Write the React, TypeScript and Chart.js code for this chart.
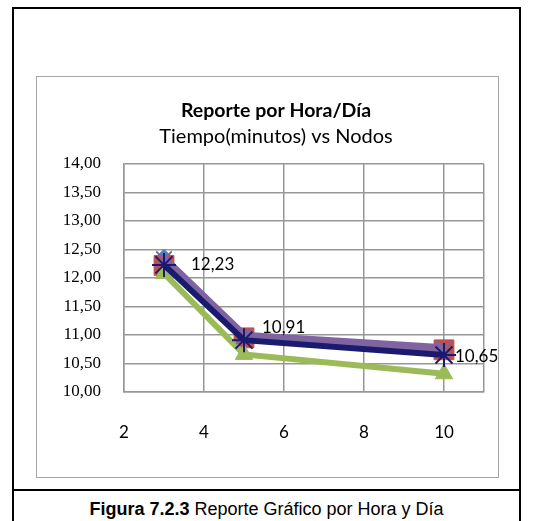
import React, { useEffect, useRef } from "react";
import { Chart, registerables } from "chart.js";

Chart.register(...registerables);

const nodes = [3, 5, 10];
const serieAzul = [12.38, 10.93, 10.72];
const serieRoja = [12.22, 10.95, 10.74];
const serieVerde = [12.08, 10.66, 10.32];
const serieMorada = [12.33, 10.98, 10.76];
const serieMarino = [12.23, 10.91, 10.65];
const xTicks = [2, 4, 6, 8, 10];
const xMax = 11;
const yMin = 10;
const yMax = 14;
const yStep = 0.5;
const titleText = "Reporte por Hora/Día";
const subtitleText = "Tiempo(minutos) vs Nodos";
const captionBold = "Figura 7.2.3";
const captionRest = " Reporte Gráfico por Hora y Día";

const fmt = (v: number) => v.toFixed(2).replace(".", ",");

const labelOffsets = [
  { dx: 27, dy: 0 },
  { dx: 18, dy: -13 },
  { dx: 11, dy: 2 },
];

const dataLabelPlugin = {
  id: "dataLabels",
  afterDatasetsDraw(chart: any) {
    const ctx = chart.ctx;
    const idx = chart.data.datasets.findIndex((d: any) => d.showLabels);
    if (idx < 0) return;
    const meta = chart.getDatasetMeta(idx);
    const ds = chart.data.datasets[idx];
    ctx.save();
    ctx.font = "17px Lato";
    ctx.fillStyle = "#000";
    ctx.textAlign = "left";
    ctx.textBaseline = "middle";
    meta.data.forEach((pt: any, i: number) => {
      const o = labelOffsets[i] || { dx: 10, dy: 0 };
      ctx.fillText(fmt(ds.data[i].y), pt.x + o.dx, pt.y + o.dy);
    });
    ctx.restore();
  },
};

const toPts = (arr: number[]) => arr.map((y, i) => ({ x: nodes[i], y }));

export default function App() {
  const ref = useRef<HTMLCanvasElement>(null);
  useEffect(() => {
    if (!ref.current) return;
    const grid = "#979797";
    const chart = new Chart(ref.current, {
      type: "line",
      data: {
        datasets: [
          {
            label: "S5",
            data: toPts(serieMarino),
            borderColor: "#1a1a6e",
            backgroundColor: "#1a1a6e",
            borderWidth: 6,
            pointStyle: "star",
            pointRadius: 12,
            pointBorderWidth: 2,
            order: 0,
            showLabels: true,
          } as any,
          {
            label: "S4",
            data: toPts(serieMorada),
            borderColor: "#8064A2",
            backgroundColor: "#8064A2",
            borderWidth: 9,
            pointStyle: "crossRot",
            pointRadius: 11,
            pointBorderWidth: 2,
            order: 1,
          },
          {
            label: "S3",
            data: toPts(serieVerde),
            borderColor: "#9BBB59",
            backgroundColor: "#9BBB59",
            borderWidth: 6,
            pointStyle: "triangle",
            pointRadius: 10,
            pointBorderWidth: 1,
            order: 2,
          },
          {
            label: "S2",
            data: toPts(serieRoja),
            borderColor: "#C0504D",
            backgroundColor: "#C0504D",
            borderWidth: 3,
            pointStyle: "rect",
            pointRadius: 14,
            pointBorderWidth: 1,
            order: 3,
          },
          {
            label: "S1",
            data: toPts(serieAzul),
            borderColor: "#4F81BD",
            backgroundColor: "#4F81BD",
            borderWidth: 3,
            pointStyle: "rectRot",
            pointRadius: 7,
            pointBorderWidth: 1,
            order: 4,
          },
        ],
      },
      options: {
        animation: false,
        responsive: false,
        maintainAspectRatio: false,
        layout: { padding: { left: 28, right: 11, top: 23.3, bottom: 26 } },
        plugins: {
          legend: { display: false },
          tooltip: { enabled: false },
          title: {
            display: true,
            text: titleText,
            color: "#000",
            font: { family: "Lato", size: 19.5, weight: "bold" },
            padding: { top: 0, bottom: 2.3 },
          },
          subtitle: {
            display: true,
            text: subtitleText,
            color: "#000",
            font: { family: "Lato", size: 20, weight: "normal" },
            padding: { top: 0, bottom: 15 },
          },
        },
        scales: {
          x: {
            type: "linear",
            min: xTicks[0],
            max: xMax,
            afterBuildTicks: (s: any) => {
              s.ticks = [...xTicks, xMax].map((v) => ({ value: v }));
            },
            afterFit: (s: any) => {
              s.height = 60;
            },
            ticks: {
              color: "#000",
              font: { family: "Lato", size: 17 },
              padding: 2,
              callback: (v: any) => (xTicks.includes(Number(v)) ? String(v) : ""),
              maxRotation: 0,
              autoSkip: false,
            },
            grid: {
              color: grid,
              lineWidth: 1.5,
              drawTicks: true,
              tickLength: 28,
              tickColor: "rgba(0,0,0,0)",
            },
            border: { color: grid, width: 1.5 },
          },
          y: {
            type: "linear",
            min: yMin,
            max: yMax,
            afterFit: (s: any) => {
              s.width = 60;
            },
            ticks: {
              stepSize: yStep,
              color: "#000",
              font: { family: "'Liberation Serif', 'Times New Roman', serif", size: 17 },
              padding: 23,
              callback: (v: any) => fmt(Number(v)),
            },
            grid: { color: grid, lineWidth: 1.5, drawTicks: false },
            border: { color: grid, width: 1.5 },
          },
        },
      },
      plugins: [dataLabelPlugin],
    });
    return () => chart.destroy();
  }, []);

  return (
    <div
      style={{
        position: "absolute",
        left: 0,
        top: 0,
        width: 539,
        height: 521,
        overflow: "hidden",
        background: "#fff",
      }}
    >
      <div
        style={{
          position: "absolute",
          left: 12,
          top: 7,
          width: 509,
          height: 540,
          border: "2px solid #000",
          boxSizing: "border-box",
        }}
      />
      <div
        style={{
          position: "absolute",
          left: 36,
          top: 76,
          width: 463,
          height: 402,
          border: "1.5px solid #a6a6a6",
          boxSizing: "border-box",
        }}
      />
      <canvas
        ref={ref}
        width={463}
        height={402}
        style={{ position: "absolute", left: 36, top: 76, width: 463, height: 402 }}
      />
      <div
        style={{
          position: "absolute",
          left: 12,
          top: 489,
          width: 509,
          height: 2,
          background: "#000",
        }}
      />
      <div
        style={{
          position: "absolute",
          left: 12,
          top: 499,
          width: 509,
          textAlign: "center",
          fontFamily: "'Liberation Sans', Arial, sans-serif",
          fontSize: 18,
          lineHeight: "20px",
          color: "#000",
        }}
      >
        <b>{captionBold}</b>
        {captionRest}
      </div>
    </div>
  );
}
